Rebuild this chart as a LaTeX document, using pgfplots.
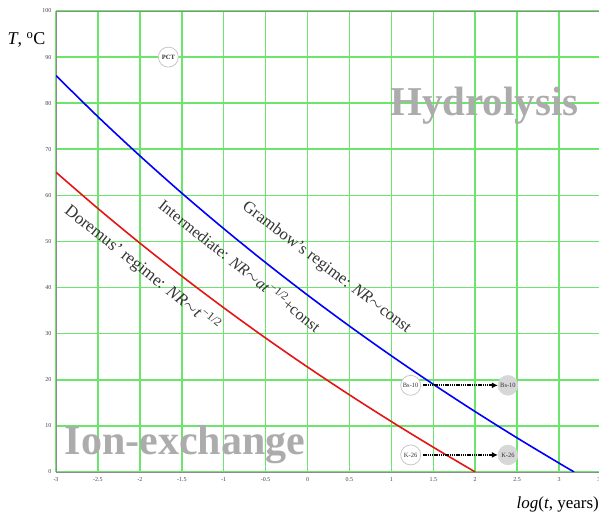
\documentclass[border=0pt]{standalone}
\usepackage{fontspec}
\setmainfont{Liberation Serif}
\usepackage{pgfplots}
\pgfplotsset{compat=1.18}
\usetikzlibrary{arrows.meta}
\definecolor{gridgreen}{rgb}{0.42,0.9,0.42}
\definecolor{axisgray}{RGB}{140,140,140}
\definecolor{labelgray}{RGB}{172,172,172}
\definecolor{circgray}{RGB}{200,200,200}
\definecolor{fillgray}{RGB}{215,215,215}
\definecolor{linered}{RGB}{230,20,20}
\begin{document}
\begin{tikzpicture}[x=1pt,y=1pt]
\begin{axis}[
  at={(56pt,46pt)}, anchor=south west,
  scale only axis, width=545pt, height=461pt,
  xmin=-3, xmax=3.5, ymin=0, ymax=100,
  xtick={-3,-2.5,-2,-1.5,-1,-0.5,0,0.5,1,1.5,2,2.5,3,3.5},
  ytick={0,10,20,30,40,50,60,70,80,90,100},
  grid=major,
  grid style={draw=gridgreen, line width=1.6pt},
  major grid style={draw=gridgreen, line width=1.6pt},
  axis line style={axisgray, line width=0.8pt},
  major tick length=0pt,
  tick label style={font=\fontsize{6}{7}\selectfont, text=black!75},
  /pgf/number format/assume math mode=true,
  xticklabel style={yshift=-2pt},
  yticklabel style={xshift=-1pt},
]
% Arrhenius-type boundaries
\addplot[blue, line width=1.6pt, smooth] coordinates {
(-3,85.99) (-2.5,77.07) (-2,68.59) (-1.5,60.50) (-1,52.79) (-0.5,45.42)
(0,38.38) (0.5,31.65) (1,25.20) (1.5,19.02) (2,13.09) (2.5,7.39) (3,1.92) (3.18,0)};
\addplot[linered, line width=1.6pt, smooth] coordinates {
(-3,65.02) (-2.5,57.16) (-2,49.66) (-1.5,42.49) (-1,35.63) (-0.5,29.06)
(0,22.77) (0.5,16.73) (1,10.94) (1.5,5.37) (2,0)};
% arrows
\addplot[black, line width=1.7pt, dash pattern=on 1.3pt off 0.9pt, -{Latex[length=6pt,width=6pt]}] coordinates {(1.38,18.8) (2.27,18.8)};
\addplot[black, line width=1.7pt, dash pattern=on 1.3pt off 0.9pt, -{Latex[length=6pt,width=6pt]}] coordinates {(1.38,3.7) (2.27,3.7)};
% circles with their labels
\addplot[only marks, mark=*, mark size=10pt, mark options={draw=circgray, fill=white, line width=0.8pt},
  point meta=explicit symbolic, nodes near coords, nodes near coords align={center},
  every node near coord/.append style={font=\fontsize{6.5}{7}\selectfont, text=black!80, anchor=center}]
  coordinates {(-1.66,90)[\textbf{PCT}] (1.23,18.8)[Bs-10] (1.23,3.7)[K-26]};
\addplot[only marks, mark=*, mark size=10pt, mark options={draw=fillgray, fill=fillgray},
  point meta=explicit symbolic, nodes near coords, nodes near coords align={center},
  every node near coord/.append style={font=\fontsize{6.5}{7}\selectfont, text=black!80, anchor=center}]
  coordinates {(2.39,18.8)[Bs-10] (2.39,3.7)[K-26]};
% regime labels
\node[rotate=-38.5, font=\fontsize{17}{19}\selectfont, text=black!80] at (axis cs:-1.97,44.2) {Doremus’ regime: \textit{NR}$\sim$\textit{t}\textsuperscript{−1/2}};
\node[rotate=-38.5, font=\fontsize{16}{18}\selectfont, text=black!80] at (axis cs:-0.80,44.9) {Intermediate: \textit{NR}$\sim$\textit{at}\textsuperscript{−1/2}+const};
\node[rotate=-37, font=\fontsize{16.5}{18}\selectfont, text=black!80] at (axis cs:0.225,44.3) {Grambow’s regime: \textit{NR}$\sim$const};
% region labels
\node[anchor=base, font=\fontsize{41}{44}\selectfont\bfseries, text=labelgray] at (axis cs:2.11,77.4) {Hydrolysis};
\node[anchor=base, font=\fontsize{42}{44}\selectfont\bfseries, text=labelgray] at (axis cs:-1.46,3.7) {Ion-exchange};
\end{axis}
\node[anchor=base east, font=\fontsize{18}{20}\selectfont] at (49,473) {\textit{T}, \textsuperscript{o}C};
\node[anchor=base east, font=\fontsize{17}{19}\selectfont, inner sep=0pt] at (599,9) {\textit{log}(\textit{t}, years)};
\pgfresetboundingbox
\path[use as bounding box] (0,0) rectangle (599,518);
\end{tikzpicture}
\end{document}
